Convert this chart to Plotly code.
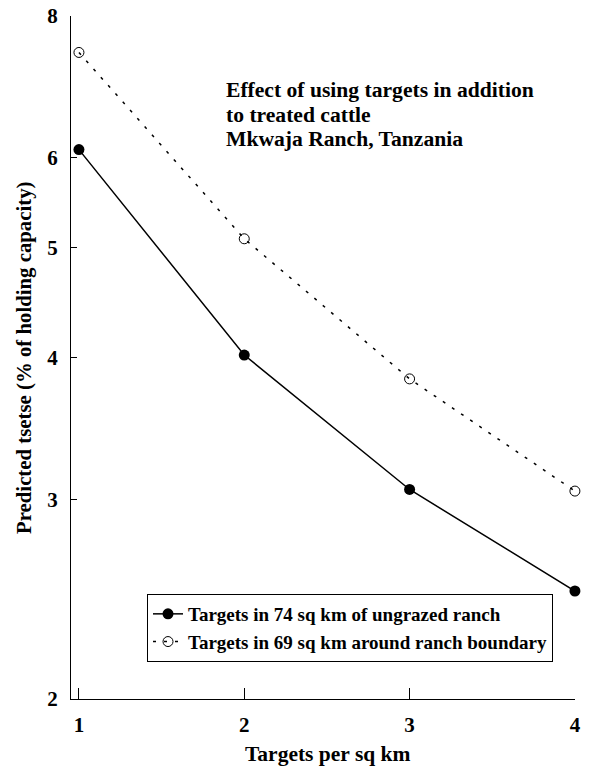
import plotly.graph_objects as go

x_vals = [1, 2, 3, 4]
ungrazed = [6.10, 4.02, 3.06, 2.49]
boundary = [7.43, 5.09, 3.83, 3.05]
y_ticks = [2, 3, 4, 5, 6, 8]
name_ungrazed = "Targets in 74 sq km of ungrazed ranch"
name_boundary = "Targets in 69 sq km around ranch boundary"
title_lines = ["Effect of using targets in addition", "to treated cattle", "Mkwaja Ranch, Tanzania"]
x_title = "Targets per sq km"
y_title = "Predicted tsetse (% of holding capacity)"

FONT = "Liberation Serif, Times New Roman, serif"


def b(s):
    return "<b>" + s + "</b>"


fig = go.Figure()
fig.add_trace(go.Scatter(
    x=x_vals, y=ungrazed, mode="lines+markers", name=b(name_ungrazed),
    line=dict(color="black", width=1.5),
    marker=dict(symbol="circle", size=11, color="black"),
    cliponaxis=False,
))
fig.add_trace(go.Scatter(
    x=x_vals, y=boundary, mode="lines+markers", name=b(name_boundary),
    line=dict(color="black", width=1.5, dash="3px,8px"),
    marker=dict(symbol="circle-open", size=10, color="black", line=dict(width=1)),
    cliponaxis=False,
))

# plot area (page px): left 71, right 575, top 16, bottom 699
H_PLOT = 683.0


def py(page_y):
    return (699.0 - page_y) / H_PLOT


def px(page_x):
    return (page_x - 71.0) / 504.0


annotations = []
for line, yc in zip(title_lines, [90, 115, 139]):
    annotations.append(dict(
        xref="paper", yref="paper", x=px(224), y=py(yc), xanchor="left", yanchor="middle",
        align="left", showarrow=False, text=b(line),
        font=dict(family=FONT, size=21.6, color="black"),
    ))
annotations.append(dict(
    xref="paper", yref="paper", x=px(327.5), y=py(754), xanchor="center", yanchor="middle",
    showarrow=False, text=b(x_title), font=dict(family=FONT, size=21.5, color="black"),
))
annotations.append(dict(
    xref="paper", yref="paper", x=px(24), y=py(358), xanchor="center", yanchor="middle",
    showarrow=False, text=b(y_title), textangle=-90, font=dict(family=FONT, size=20.8, color="black"),
))

fig.update_layout(
    width=604, height=769,
    margin=dict(l=71, r=29, t=16, b=70, autoexpand=False),
    paper_bgcolor="white", plot_bgcolor="white",
    font=dict(family=FONT, color="black"),
    showlegend=True,
    legend=dict(
        x=px(147), y=py(594), xanchor="left", yanchor="top",
        bordercolor="black", borderwidth=1, bgcolor="white",
        font=dict(family=FONT, size=19, color="black"),
        tracegroupgap=0,
    ),
    xaxis=dict(
        range=[0.952, 4.0005], tickvals=x_vals, ticktext=[b(str(v)) for v in x_vals],
        showline=True, linecolor="black", linewidth=1,
        ticks="inside", ticklen=11, tickcolor="black",
        showgrid=False, zeroline=False, automargin=False,
        ticklabelstandoff=7, ticklabeloverflow="allow",
        tickfont=dict(family=FONT, size=21, color="black"),
    ),
    yaxis=dict(
        type="log", range=[0.30100, 0.90312],
        tickvals=y_ticks, ticktext=[b(str(v)) for v in y_ticks],
        showline=True, linecolor="black", linewidth=1,
        ticks="inside", ticklen=6, tickcolor="black",
        showgrid=False, zeroline=False, automargin=False,
        ticklabelstandoff=8, ticklabeloverflow="allow",
        tickfont=dict(family=FONT, size=21, color="black"),
    ),
    annotations=annotations,
)

fig.write_html("out.html", config={"displayModeBar": False},
               post_script="document.body.style.margin='0';")
